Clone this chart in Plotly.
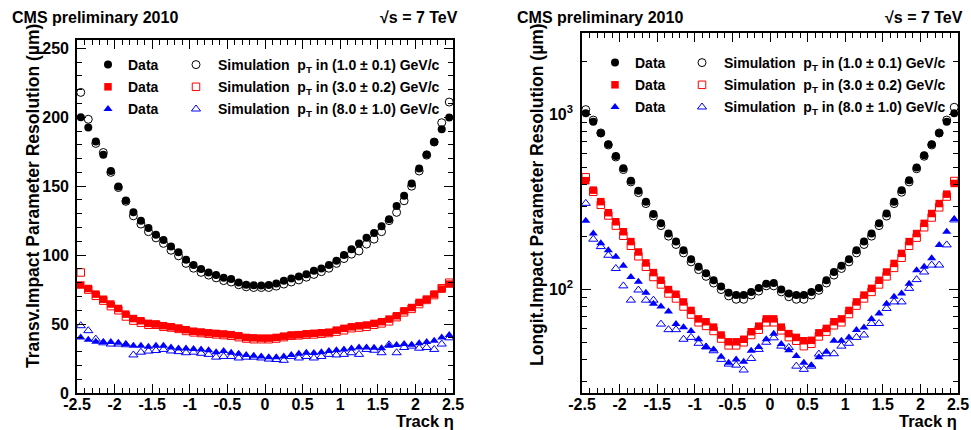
import plotly.graph_objects as go

# ---------------- data ----------------
eta = [-2.45, -2.35, -2.25, -2.15, -2.05, -1.95, -1.85, -1.75, -1.65, -1.55,
       -1.45, -1.35, -1.25, -1.15, -1.05, -0.95, -0.85, -0.75, -0.65, -0.55,
       -0.45, -0.35, -0.25, -0.15, -0.05, 0.05, 0.15, 0.25, 0.35, 0.45,
       0.55, 0.65, 0.75, 0.85, 0.95, 1.05, 1.15, 1.25, 1.35, 1.45,
       1.55, 1.65, 1.75, 1.85, 1.95, 2.05, 2.15, 2.25, 2.35, 2.45]

# Transverse impact parameter resolution (um)
trans_data_pt1 = [200, 192.5, 182.4, 172.7, 161, 149.8, 139.6, 131, 124.9, 119.6,
                  114.7, 110.9, 106.3, 102, 96.6, 92.8, 89.9, 87.4, 85.5, 83.6,
                  82.6, 80.2, 78.5, 78.2, 78.0, 78.3, 79.5, 81.4, 83.0, 84.5,
                  86.2, 88.6, 90.3, 92.8, 95.9, 100, 104.3, 108.4, 112.5, 116,
                  121, 126, 135.7, 143, 152, 162.8, 173, 182, 191.3, 199.8]
trans_sim_pt1 = [218, 198.5, 181, 174.4, 160, 149, 139, 128.5, 122.5, 117,
                 112.5, 108.5, 103.5, 99.5, 94, 90.5, 87.5, 85.5, 83.5, 81.5,
                 80.5, 78.5, 77, 76.5, 76.5, 76.5, 77.5, 79, 80.5, 82,
                 84, 86, 88, 90.5, 94, 97.5, 100.7, 103, 108, 111.6,
                 117, 125, 131, 139.4, 150, 161, 172.5, 182, 196, 211]
trans_data_pt3 = [78.3, 75.8, 71.7, 68, 64.5, 61.3, 57.2, 54, 52.4, 50.5,
                  50, 48.8, 48, 47, 45.9, 44.8, 44.2, 43.6, 43.2, 42.8,
                  42.3, 41.5, 40.3, 40, 39.8, 39.8, 40.3, 41.2, 42, 42.3,
                  42.9, 43.3, 43.7, 44, 45.6, 46.9, 48, 48.7, 49.3, 50.5,
                  51.7, 53.6, 56, 59.6, 62, 65.7, 68, 71.7, 75.4, 79]
trans_sim_pt3 = [87.4, 75, 70.5, 67, 63, 60, 55.5, 52.5, 51, 49.5,
                 49.5, 48, 47.5, 46.5, 45, 44, 43.5, 43, 42.5, 42,
                 41.5, 40.5, 39.5, 39, 39, 39, 39.5, 40.5, 41.5, 41.8,
                 42.3, 42.5, 43, 43.5, 44.5, 45.5, 47, 47.5, 48, 49.5,
                 50.5, 52, 55, 58.5, 61, 64.5, 67.5, 71, 76, 80]
trans_data_pt8 = [40.3, 38.6, 37.2, 36.9, 37, 36.4, 35.5, 34.3, 34.3, 33.6,
                  34.3, 34.3, 33, 32.3, 32.3, 32, 31.6, 31, 29.6, 30.4,
                  29.2, 28.5, 27.6, 27, 26.5, 26, 26, 26.5, 27.6, 28.5,
                  29.2, 29, 29.6, 30.4, 31, 31.6, 32.3, 33, 33, 32.8,
                  32.5, 34.3, 34.8, 35.5, 35, 36, 37, 37.9, 40.3, 42]
trans_sim_pt8 = [48.8, 45.2, 39.1, 36.4, 35.5, 35.5, 35, 27.6, 29.6, 30.4,
                 30.8, 31.6, 30.5, 30, 29.2, 29.6, 28.8, 28, 26, 26.5,
                 26.5, 25.4, 26, 26, 25.4, 24.6, 24.3, 23.7, 26.5, 25.4,
                 26.5, 25.4, 26.5, 28, 27.6, 28, 29.2, 28, 31.6, 31,
                 29.2, 35, 29.2, 33, 34, 32.5, 33, 31.6, 35.5, 40]

# Longitudinal impact parameter resolution (um)
long_data_pt1 = [1016, 910, 781, 677, 580, 493, 419, 367, 318, 270,
                 239, 209, 188, 168, 149, 135, 124, 113, 104, 96,
                 93, 93, 97, 102, 108, 109, 100, 95, 93, 93,
                 97, 102, 113, 126, 137, 149, 168, 188, 209, 239,
                 272, 318, 370, 422, 499, 586, 677, 781, 910, 1016]
long_sim_pt1 = [1067, 930, 785, 670, 572, 485, 412, 358, 310, 263,
                232, 202, 181, 162, 144, 130, 119, 109, 100, 92,
                88, 88, 93, 98, 105, 105, 97, 91, 88, 88,
                93, 99, 109, 121, 132, 144, 162, 181, 202, 232,
                263, 310, 360, 412, 490, 578, 670, 785, 930, 1100]
long_data_pt3 = [419, 370, 318, 275, 244, 214, 188, 164, 142, 125,
                 113, 100, 94, 85, 76, 68, 65.5, 61, 55, 50.3,
                 50.3, 52, 57.4, 61.8, 68, 68, 61, 56, 53.3, 51,
                 51.3, 56.6, 60, 65.5, 68, 76, 85, 93, 101.6, 113,
                 126, 141, 161, 188, 209, 239, 272, 310, 351, 404]
long_sim_pt3 = [438, 362, 305, 265, 232, 203, 178, 155, 135, 118,
                107, 95, 89, 80, 72, 65, 62, 58, 52.5, 48,
                48, 50, 55, 59, 65, 65, 58.5, 53.5, 51, 47.5,
                49, 54, 57.5, 62.5, 65, 72.5, 81, 89, 97, 107,
                119, 133, 152, 178, 198, 227, 258, 295, 340, 417]
long_data_pt8 = [247, 209, 184, 168, 154, 137, 118, 111, 96, 83,
                 80, 75, 63.5, 61, 58, 52, 47, 45.5, 41.3, 38.2,
                 39.9, 38.7, 44.7, 47, 52, 56, 48.8, 45, 41.7, 38.2,
                 37, 41, 44.1, 51, 51, 53.3, 58.7, 60.8, 68, 73,
                 83, 91, 95, 108, 129, 135, 151, 180, 214, 253]
long_sim_pt8 = [311, 194, 176, 157, 132, 105, 87, 99.4, 87, 87,
                63.5, 59, 59, 52, 53.3, 49.3, 47, 44.7, 39.9, 37.5,
                37, 34.7, 40.4, 45.5, 50, 53, 47.5, 46.7, 36.5, 35,
                36.5, 42.8, 43, 43, 47.5, 49.3, 53.3, 55, 64, 64,
                78, 85, 85, 101.6, 114, 126, 138, 138, 180, 250]

sim_labels = ["Simulation  p<sub>T</sub> in (1.0 \u00b1 0.1) GeV/c",
              "Simulation  p<sub>T</sub> in (3.0 \u00b1 0.2) GeV/c",
              "Simulation  p<sub>T</sub> in (8.0 \u00b1 1.0) GeV/c"]

x_tickvals = [-2.5, -2, -1.5, -1, -0.5, 0, 0.5, 1, 1.5, 2, 2.5]
x_ticktext = ["-2.5", "-2", "-1.5", "-1", "-0.5", "0", "0.5", "1", "1.5", "2", "2.5"]
ty_tickvals = [0, 50, 100, 150, 200, 250]
ly_tickvals = [100, 1000]
ly_ticktext = ["10<sup>2</sup>", "10<sup>3</sup>"]
ly_minor = [30, 40, 50, 60, 70, 80, 90, 200, 300, 400, 500, 600, 700, 800, 900, 2000]

# ---------------- styling ----------------
FONT = "Liberation Sans, Arial, Helvetica, sans-serif"
W, H = 971, 430
colors = ["#000000", "#ff0000", "#0000ff"]
filled = ["circle", "square", "triangle-up"]
opened = ["circle-open", "square-open", "triangle-up-open"]
sizes = [8, 7.5, 8]

fig = go.Figure()

panels = [
    ("x", "y", [trans_data_pt1, trans_data_pt3, trans_data_pt8],
     [trans_sim_pt1, trans_sim_pt3, trans_sim_pt8], "legend", "legend2", "L"),
    ("x2", "y2", [long_data_pt1, long_data_pt3, long_data_pt8],
     [long_sim_pt1, long_sim_pt3, long_sim_pt8], "legend3", "legend4", "R"),
]

for xa, ya, dsets, ssets, lgd, lgs, tag in panels:
    for i in range(3):
        fig.add_trace(go.Scatter(
            x=eta, y=dsets[i], mode="markers", name="Data",
            xaxis=xa, yaxis=ya, legend=lgd, legendgroup=f"{tag}d{i}",
            marker=dict(symbol=filled[i], size=sizes[i], color=colors[i],
                        line=dict(width=0))))
    for i in range(3):
        fig.add_trace(go.Scatter(
            x=eta, y=ssets[i], mode="markers", name=sim_labels[i],
            xaxis=xa, yaxis=ya, legend=lgs, legendgroup=f"{tag}s{i}",
            marker=dict(symbol=opened[i], size=sizes[i], color=colors[i],
                        line=dict(width=1, color=colors[i]))))

tickfont = dict(family=FONT, size=16, color="black", weight="bold")

def xaxis_cfg(domain, anchor):
    return dict(domain=domain, anchor=anchor, range=[-2.5, 2.5], automargin=False,
                tickmode="array", tickvals=x_tickvals, ticktext=x_ticktext,
                ticks="inside", ticklen=9, tickwidth=1, tickcolor="black",
                minor=dict(dtick=0.1, tick0=0, ticks="inside", ticklen=5,
                           tickwidth=1, tickcolor="black"),
                showline=True, linecolor="black", linewidth=1.6, mirror="ticks",
                showgrid=False, zeroline=False, tickfont=tickfont,
                ticklabelstandoff=-4)

lx = [77 / W, 453 / W]
rx = [582 / W, 958 / W]

fig.update_layout(
    width=W, height=H,
    margin=dict(l=0, r=0, t=0, b=0, autoexpand=False),
    paper_bgcolor="white", plot_bgcolor="white",
    font=dict(family=FONT, size=14, color="black", weight="bold"),
    xaxis=xaxis_cfg(lx, "y"),
    xaxis2=xaxis_cfg(rx, "y2"),
    yaxis=dict(domain=[1 - 393 / H, 1 - 40 / H], anchor="x", range=[0, 256],
               automargin=False,
               tickmode="array", tickvals=ty_tickvals,
               ticks="inside", ticklen=9, tickwidth=1, tickcolor="black",
               minor=dict(dtick=10, tick0=0, ticks="inside", ticklen=5,
                          tickwidth=1, tickcolor="black"),
               showline=True, linecolor="black", linewidth=1.6, mirror="ticks",
               showgrid=False, zeroline=False, tickfont=tickfont,
               ticklabelstandoff=3),
    yaxis2=dict(domain=[1 - 393 / H, 1 - 33 / H], anchor="x2", type="log",
                range=[1.409, 3.466], automargin=False,
                tickmode="array", tickvals=ly_tickvals, ticktext=ly_ticktext,
                ticks="inside", ticklen=9, tickwidth=1, tickcolor="black",
                minor=dict(tickmode="array", tickvals=ly_minor, ticks="inside",
                           ticklen=5, tickwidth=1, tickcolor="black"),
                showline=True, linecolor="black", linewidth=1.6, mirror="ticks",
                showgrid=False, zeroline=False, tickfont=tickfont,
                ticklabelstandoff=4),
    showlegend=True,
)

legfont = dict(family=FONT, size=14, color="black", weight="bold")
def legend_cfg(xpx, ypx, iw=30):
    return dict(x=xpx / W, y=1 - ypx / H, xanchor="left", yanchor="top",
                bgcolor="rgba(0,0,0,0)", borderwidth=0, font=legfont,
                traceorder="grouped", itemclick=False, tracegroupgap=1,
                itemwidth=iw)

fig.update_layout(
    legend=legend_cfg(88, 49),
    legend2=legend_cfg(174, 49, 34),
    legend3=legend_cfg(595, 47),
    legend4=legend_cfg(680, 47, 34),
)

ann = []
hdr = dict(family=FONT, size=16, color="black", weight="bold")
ann.append(dict(text="CMS preliminary 2010", x=10 / W, y=1 - 17 / H, xref="paper",
                yref="paper", xanchor="left", yanchor="middle", showarrow=False, font=hdr))
ann.append(dict(text="\u221as = 7 TeV", x=460 / W, y=1 - 17 / H, xref="paper",
                yref="paper", xanchor="right", yanchor="middle", showarrow=False, font=hdr))
ann.append(dict(text="CMS preliminary 2010", x=515 / W, y=1 - 17 / H, xref="paper",
                yref="paper", xanchor="left", yanchor="middle", showarrow=False, font=hdr))
ann.append(dict(text="\u221as = 7 TeV", x=965 / W, y=1 - 17 / H, xref="paper",
                yref="paper", xanchor="right", yanchor="middle", showarrow=False, font=hdr))
ttl = dict(family=FONT, size=17.5, color="black", weight="bold")
xt = dict(family=FONT, size=16.5, color="black", weight="bold")
ann.append(dict(text="Track \u03b7", x=456 / W, y=1 - 421 / H, xref="paper",
                yref="paper", xanchor="right", yanchor="middle", showarrow=False, font=xt))
ann.append(dict(text="Track \u03b7", x=959 / W, y=1 - 421 / H, xref="paper",
                yref="paper", xanchor="right", yanchor="middle", showarrow=False, font=xt))
ann.append(dict(text="Transv.Impact Parameter Resolution (\u00b5m)", textangle=-90,
                x=33 / W, y=1 - 196 / H, xref="paper", yref="paper",
                xanchor="center", yanchor="middle", showarrow=False, font=ttl))
ann.append(dict(text="Longit.Impact Parameter Resolution (\u00b5m)", textangle=-90,
                x=537 / W, y=1 - 195 / H, xref="paper", yref="paper",
                xanchor="center", yanchor="middle", showarrow=False, font=ttl))
fig.update_layout(annotations=ann)

fig.write_html("out.html")
